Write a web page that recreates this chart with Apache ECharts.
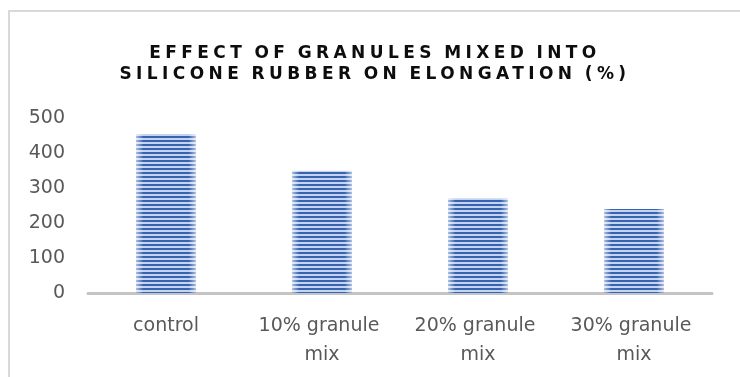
<!DOCTYPE html>
<html>
<head>
<meta charset="utf-8">
<script src="https://cdn.jsdelivr.net/npm/echarts@6/dist/echarts.min.js"></script>
<style>
  html, body { margin: 0; padding: 0; background: #fff; }
  #wrap { position: relative; width: 740px; height: 377px; overflow: hidden; }
  #main { width: 740px; height: 377px; }
  #title {
    position: absolute; left: 5px; top: 42px; width: 740px;
    text-align: center; font-family: "DejaVu Sans", sans-serif; font-weight: bold;
    font-size: 17px; line-height: 21px; letter-spacing: 4.4px; word-spacing: -2px; color: #0d0d0d;
    pointer-events: none;
  }
</style>
</head>
<body>
<div id="wrap">
  <div id="main"></div>
  <div id="title">EFFECT OF GRANULES MIXED INTO<br>SILICONE RUBBER ON ELONGATION (%)</div>
</div>
<script>
var categories = ['control', '10% granule mix', '20% granule mix', '30% granule mix'];
var elongation = [454, 349, 271, 240];
var yTicks = [0, 100, 200, 300, 400, 500];

// striped fill like the Excel pattern
var pc = document.createElement('canvas');
pc.width = 4; pc.height = 4;
var pctx = pc.getContext('2d');
pctx.fillStyle = '#c4d4ee';
pctx.fillRect(0, 0, 4, 4);
pctx.fillStyle = '#3763b1';
pctx.fillRect(0, 0, 4, 2);

var myChart = echarts.init(document.getElementById('main'));
var option = {
  animation: false,
  graphic: [{
    type: 'rect',
    shape: { x: 9, y: 11, width: 800, height: 400 },
    style: { fill: 'none', stroke: '#d9d9d9', lineWidth: 2 },
    silent: true
  }],
  grid: { left: 88, right: 28, top: 118, bottom: 84 },
  xAxis: {
    type: 'category',
    data: categories,
    axisLine: { lineStyle: { color: '#c4c4c4', width: 3 } },
    axisTick: { show: false },
    axisLabel: {
      color: '#595959', fontFamily: 'DejaVu Sans', fontSize: 19,
      margin: 19, lineHeight: 29, width: 150, overflow: 'break', interval: 0
    }
  },
  yAxis: {
    type: 'value',
    min: yTicks[0], max: yTicks[yTicks.length - 1], interval: 100,
    axisLine: { show: false },
    axisTick: { show: false },
    splitLine: { show: false },
    axisLabel: { color: '#595959', fontFamily: 'DejaVu Sans', fontSize: 19, margin: 23 }
  },
  series: [{
    type: 'bar',
    data: elongation,
    barWidth: '38%',
    itemStyle: { color: { image: pc, repeat: 'repeat' } }
  }, {
    // soft light edges over the stripes
    type: 'bar',
    data: elongation,
    barWidth: '38%',
    barGap: '-100%',
    silent: true,
    z: 3,
    itemStyle: {
      color: new echarts.graphic.LinearGradient(0, 0, 1, 0, [
        { offset: 0, color: 'rgba(255,255,255,0.55)' },
        { offset: 0.12, color: 'rgba(255,255,255,0)' },
        { offset: 0.88, color: 'rgba(255,255,255,0)' },
        { offset: 1, color: 'rgba(255,255,255,0.55)' }
      ])
    }
  }]
};
myChart.setOption(option);
</script>
</body>
</html>
